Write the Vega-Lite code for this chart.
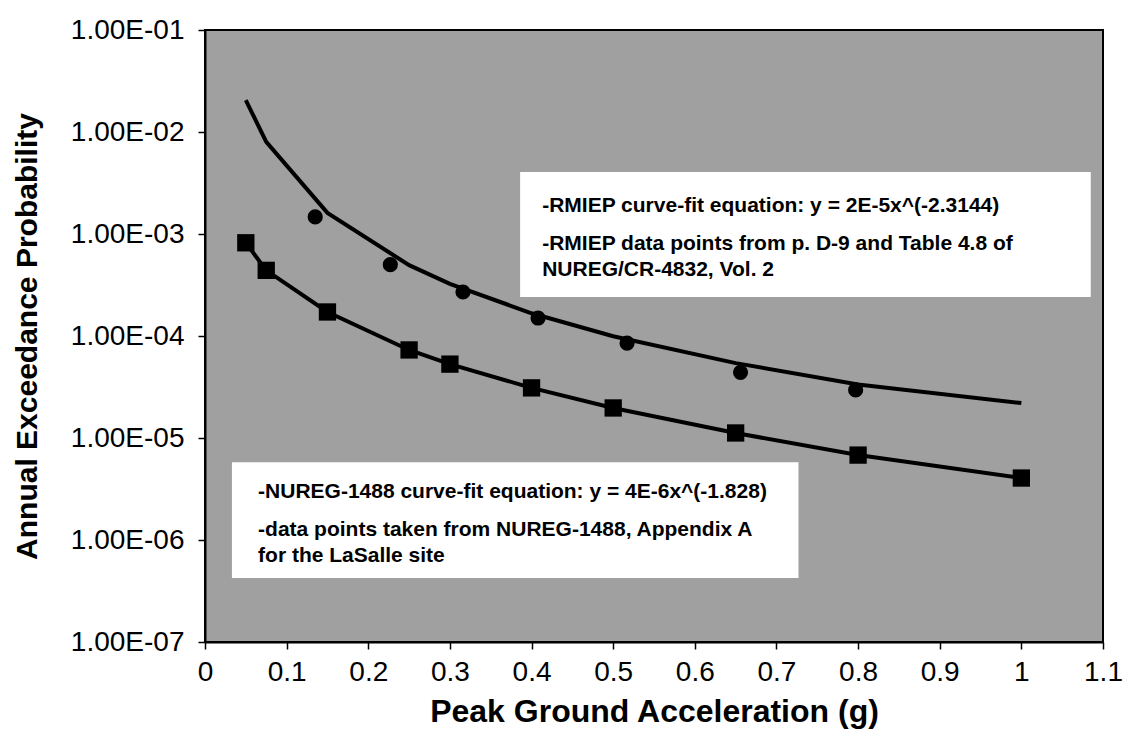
{
  "$schema": "https://vega.github.io/schema/vega-lite/v6.json",
  "width": 898,
  "height": 612,
  "autosize": {"type": "none"},
  "padding": {"left": 205, "top": 30, "right": 23, "bottom": 100},
  "background": "white",
  "config": {
    "view": {"fill": "#a0a0a0", "stroke": "black", "strokeWidth": 2},
    "font": "Liberation Sans"
  },
  "datasets": {
    "rmiep_points": [
      {"pga": 0.135, "p": 1.47e-3},
      {"pga": 0.227, "p": 5.0e-4},
      {"pga": 0.316, "p": 2.7e-4},
      {"pga": 0.408, "p": 1.5e-4},
      {"pga": 0.517, "p": 8.5e-5},
      {"pga": 0.656, "p": 4.4e-5},
      {"pga": 0.797, "p": 2.96e-5}
    ],
    "rmiep_fit": [
      {"pga": 0.05, "p": 2.05e-2},
      {"pga": 0.075, "p": 8.0e-3},
      {"pga": 0.15, "p": 1.61e-3},
      {"pga": 0.25, "p": 4.95e-4},
      {"pga": 0.3, "p": 3.25e-4},
      {"pga": 0.4, "p": 1.67e-4},
      {"pga": 0.5, "p": 9.95e-5},
      {"pga": 0.65, "p": 5.42e-5},
      {"pga": 0.8, "p": 3.35e-5},
      {"pga": 1.0, "p": 2.2e-5}
    ],
    "nureg_points": [
      {"pga": 0.05, "p": 8.2e-4},
      {"pga": 0.075, "p": 4.4e-4},
      {"pga": 0.15, "p": 1.72e-4},
      {"pga": 0.25, "p": 7.3e-5},
      {"pga": 0.3, "p": 5.3e-5},
      {"pga": 0.4, "p": 3.1e-5},
      {"pga": 0.5, "p": 1.97e-5},
      {"pga": 0.65, "p": 1.12e-5},
      {"pga": 0.8, "p": 6.8e-6},
      {"pga": 1.0, "p": 4.05e-6}
    ],
    "anchor": [{}]
  },
  "layer": [
    {
      "data": {"name": "rmiep_fit"},
      "mark": {"type": "line", "color": "black", "strokeWidth": 4},
      "encoding": {
        "x": {
          "field": "pga", "type": "quantitative",
          "scale": {"domain": [0, 1.1], "nice": false, "zero": false},
          "axis": {
            "title": "Peak Ground Acceleration (g)",
            "values": [0, 0.1, 0.2, 0.3, 0.4, 0.5, 0.6, 0.7, 0.8, 0.9, 1, 1.1],
            "format": "~g",
            "grid": false,
            "labelFontSize": 28, "labelColor": "black", "labelPadding": 9, "labelFlush": false,
            "tickColor": "black", "tickSize": 7, "tickWidth": 1.5,
            "domainColor": "black", "domainWidth": 2,
            "titleFontSize": 32, "titleFontWeight": "bold", "titleColor": "black", "titlePadding": 10
          }
        },
        "y": {
          "field": "p", "type": "quantitative",
          "scale": {"type": "log", "domain": [1e-7, 1e-1], "nice": false},
          "axis": {
            "title": "Annual Exceedance Probability",
            "values": [1e-7, 1e-6, 1e-5, 1e-4, 1e-3, 1e-2, 1e-1],
            "labelExpr": "'1.00E-0' + round(-log(datum.value)/LN10)",
            "grid": false,
            "labelFontSize": 28, "labelColor": "black", "labelPadding": 14,
            "tickColor": "black", "tickSize": 7, "tickWidth": 1.5,
            "domainColor": "black", "domainWidth": 2,
            "titleFontSize": 30, "titleFontWeight": "bold", "titleColor": "black", "titlePadding": 28
          }
        }
      }
    },
    {
      "data": {"name": "nureg_points"},
      "mark": {"type": "line", "color": "black", "strokeWidth": 4},
      "encoding": {
        "x": {"field": "pga", "type": "quantitative"},
        "y": {"field": "p", "type": "quantitative"}
      }
    },
    {
      "data": {"name": "rmiep_points"},
      "mark": {"type": "point", "shape": "circle", "filled": true, "color": "black", "size": 230, "opacity": 1},
      "encoding": {
        "x": {"field": "pga", "type": "quantitative"},
        "y": {"field": "p", "type": "quantitative"}
      }
    },
    {
      "data": {"name": "nureg_points"},
      "mark": {"type": "point", "shape": "square", "filled": true, "color": "black", "size": 300, "opacity": 1},
      "encoding": {
        "x": {"field": "pga", "type": "quantitative"},
        "y": {"field": "p", "type": "quantitative"}
      }
    },
    {
      "data": {"name": "anchor"},
      "mark": {"type": "rect", "fill": "white"},
      "encoding": {
        "x": {"datum": 0.386, "type": "quantitative"},
        "x2": {"datum": 1.085},
        "y": {"datum": 4.06e-3, "type": "quantitative"},
        "y2": {"datum": 2.41e-4}
      }
    },
    {
      "data": {"name": "anchor"},
      "mark": {"type": "rect", "fill": "white"},
      "encoding": {
        "x": {"datum": 0.033, "type": "quantitative"},
        "x2": {"datum": 0.727},
        "y": {"datum": 5.8e-6, "type": "quantitative"},
        "y2": {"datum": 4.24e-7}
      }
    },
    {
      "data": {"name": "anchor"},
      "mark": {"type": "text", "align": "left", "baseline": "middle", "font": "Liberation Sans", "fontWeight": "bold", "fontSize": 21, "color": "black",
        "text": "-RMIEP curve-fit equation:  y = 2E-5x^(-2.3144)"},
      "encoding": {
        "x": {"datum": 0.413, "type": "quantitative"},
        "y": {"datum": 1.88e-3, "type": "quantitative"}
      }
    },
    {
      "data": {"name": "anchor"},
      "mark": {"type": "text", "align": "left", "baseline": "middle", "font": "Liberation Sans", "fontWeight": "bold", "fontSize": 21, "color": "black", "lineHeight": 26,
        "text": ["-RMIEP data points from p. D-9 and Table 4.8 of", "\u00a0NUREG/CR-4832, Vol. 2"]},
      "encoding": {
        "x": {"datum": 0.413, "type": "quantitative"},
        "y": {"datum": 7.98e-4, "type": "quantitative"}
      }
    },
    {
      "data": {"name": "anchor"},
      "mark": {"type": "text", "align": "left", "baseline": "middle", "font": "Liberation Sans", "fontWeight": "bold", "fontSize": 21, "color": "black",
        "text": "-NUREG-1488 curve-fit equation:  y = 4E-6x^(-1.828)"},
      "encoding": {
        "x": {"datum": 0.065, "type": "quantitative"},
        "y": {"datum": 2.96e-6, "type": "quantitative"}
      }
    },
    {
      "data": {"name": "anchor"},
      "mark": {"type": "text", "align": "left", "baseline": "middle", "font": "Liberation Sans", "fontWeight": "bold", "fontSize": 21, "color": "black", "lineHeight": 26,
        "text": ["-data points taken from NUREG-1488, Appendix A", "\u00a0for the LaSalle site"]},
      "encoding": {
        "x": {"datum": 0.065, "type": "quantitative"},
        "y": {"datum": 1.25e-6, "type": "quantitative"}
      }
    }
  ]
}
